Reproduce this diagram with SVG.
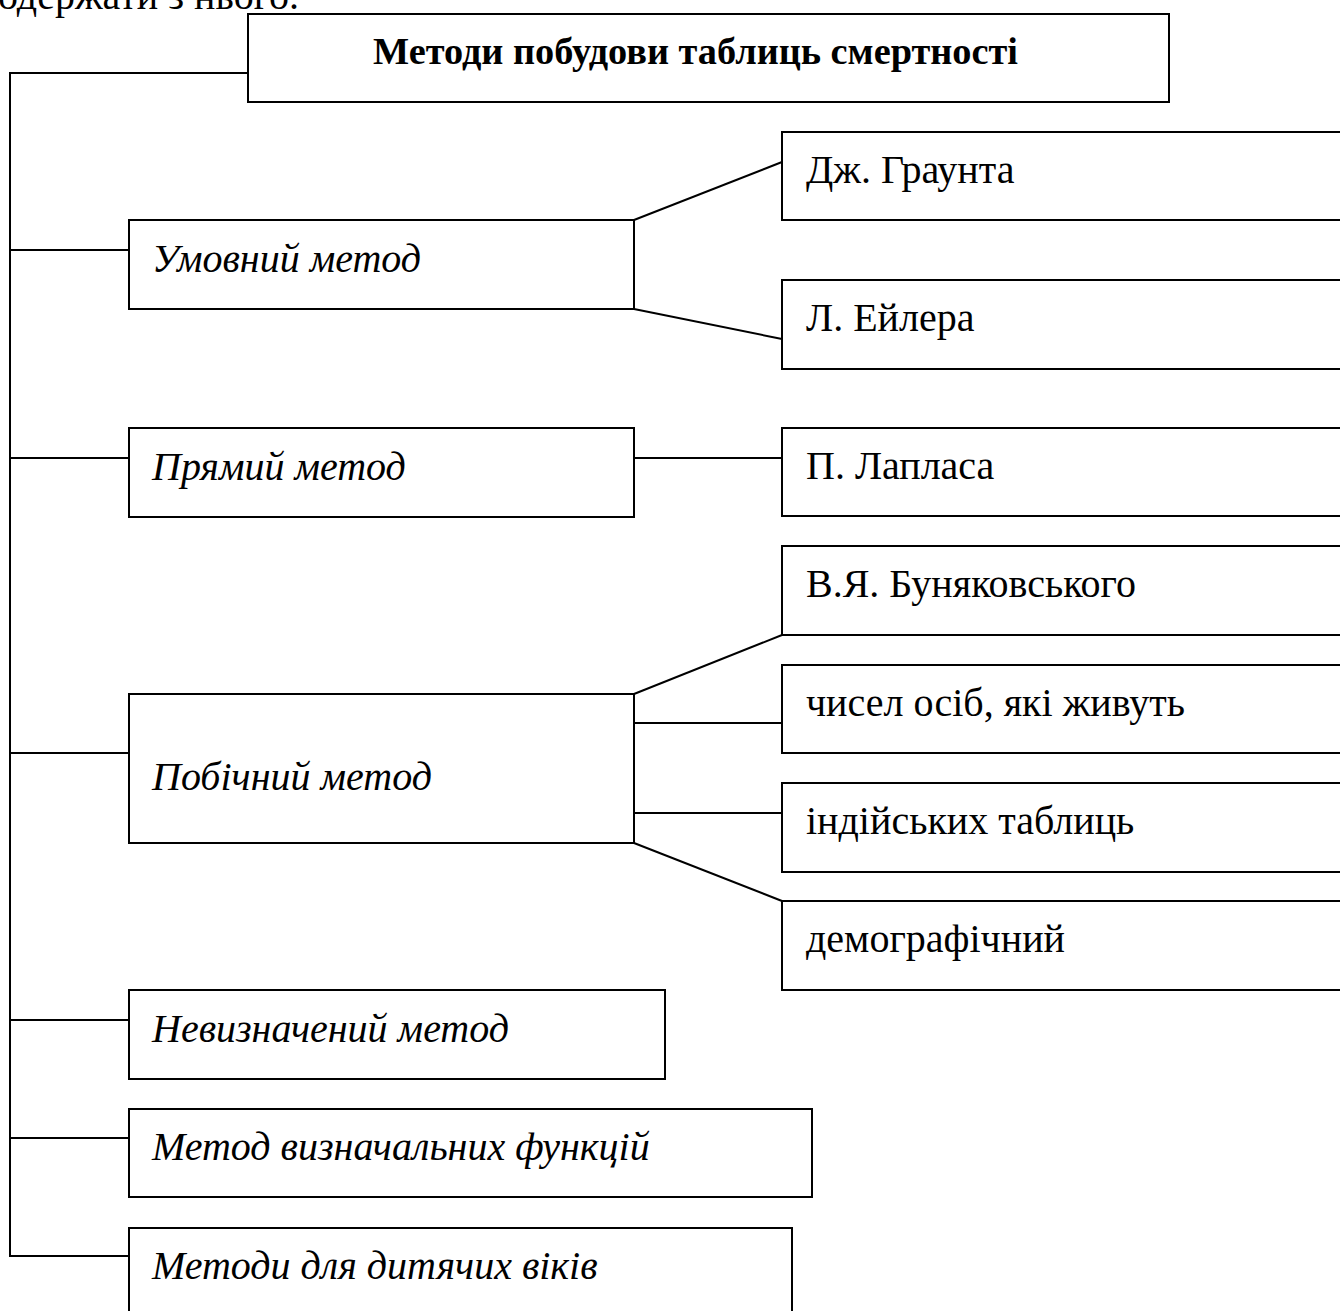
<svg xmlns="http://www.w3.org/2000/svg" width="1340" height="1311" viewBox="0 0 1340 1311">
<style>
.box{fill:#fff;stroke:#000;stroke-width:2}
.ln{fill:none;stroke:#000;stroke-width:2}
.t{font-family:"Liberation Serif","Times New Roman",serif;font-size:40px;fill:#000}
.i{font-style:italic}
.b{font-weight:bold;font-size:38.3px}
</style>
<rect width="1340" height="1311" fill="#fff"/>
<text class="t" x="-2" y="9">одержати з нього.</text>
<g id="connectors">
<polyline class="ln" points="248,73 10,73 10,1256 129,1256"/>
<line class="ln" x1="10" y1="250" x2="129" y2="250"/>
<line class="ln" x1="10" y1="458" x2="129" y2="458"/>
<line class="ln" x1="10" y1="753" x2="129" y2="753"/>
<line class="ln" x1="10" y1="1020" x2="129" y2="1020"/>
<line class="ln" x1="10" y1="1138" x2="129" y2="1138"/>
<line class="ln" x1="634" y1="220" x2="782" y2="162"/>
<line class="ln" x1="634" y1="309" x2="782" y2="339"/>
<line class="ln" x1="634" y1="458" x2="782" y2="458"/>
<line class="ln" x1="634" y1="694" x2="782" y2="635"/>
<line class="ln" x1="634" y1="723" x2="782" y2="723"/>
<line class="ln" x1="634" y1="813" x2="782" y2="813"/>
<line class="ln" x1="634" y1="843" x2="782" y2="901"/>
</g>
<g id="title"><rect class="box" x="248" y="14" width="921" height="88"/><text class="t b" x="373" y="64">Методи побудови таблиць смертності</text></g>
<g id="umovnyi"><rect class="box" x="129" y="220" width="505" height="89"/><text class="t i" x="152" y="272">Умовний метод</text></g>
<g id="graunt"><rect class="box" x="782" y="132" width="570" height="88"/><text class="t" x="806" y="183">Дж. Граунта</text></g>
<g id="euler"><rect class="box" x="782" y="280" width="570" height="89"/><text class="t" x="806" y="331">Л. Ейлера</text></g>
<g id="pryamyi"><rect class="box" x="129" y="428" width="505" height="89"/><text class="t i" x="152" y="480">Прямий метод</text></g>
<g id="laplace"><rect class="box" x="782" y="428" width="570" height="88"/><text class="t" x="806" y="479">П. Лапласа</text></g>
<g id="bunyak"><rect class="box" x="782" y="546" width="570" height="89"/><text class="t" x="806" y="597">В.Я. Буняковського</text></g>
<g id="chysel"><rect class="box" x="782" y="665" width="570" height="88"/><text class="t" x="806" y="716">чисел осіб, які живуть</text></g>
<g id="indian"><rect class="box" x="782" y="783" width="570" height="89"/><text class="t" x="806" y="834">індійських таблиць</text></g>
<g id="demo"><rect class="box" x="782" y="901" width="570" height="89"/><text class="t" x="806" y="952">демографічний</text></g>
<g id="pobichnyi"><rect class="box" x="129" y="694" width="505" height="149"/><text class="t i" x="152" y="790">Побічний метод</text></g>
<g id="nevyzn"><rect class="box" x="129" y="990" width="536" height="89"/><text class="t i" x="152" y="1042">Невизначений метод</text></g>
<g id="vyzn"><rect class="box" x="129" y="1109" width="683" height="88"/><text class="t i" x="152" y="1160">Метод визначальних функцій</text></g>
<g id="dytyachi"><rect class="box" x="129" y="1228" width="663" height="100"/><text class="t i" x="152" y="1279">Методи для дитячих віків</text></g>
</svg>
